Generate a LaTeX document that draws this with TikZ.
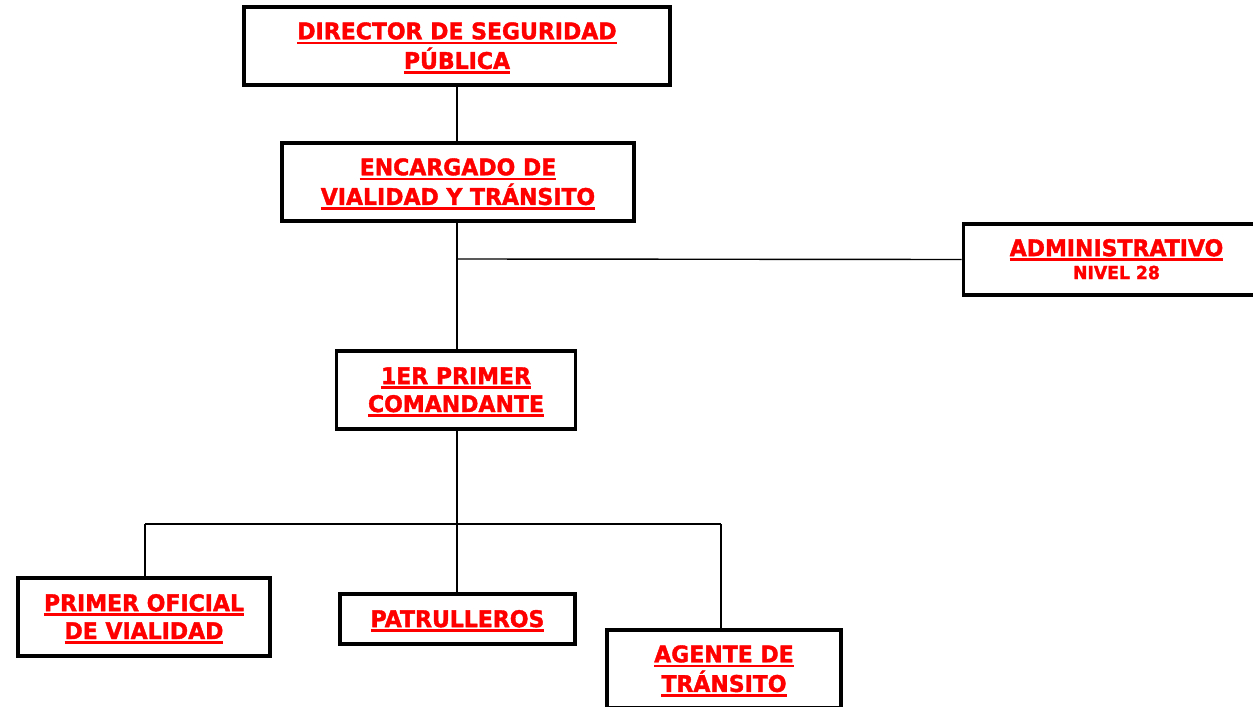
\documentclass[tikz,border=0pt]{standalone}
\usepackage{fontspec}
\setmainfont{DejaVu Sans}[BoldFeatures={FakeBold=1.6,FakeStretch=0.96}]
\definecolor{ured}{RGB}{255,0,0}
\newcommand\myul[1]{\setbox0\hbox{#1}\rlap{\color{ured}\rule[-5bp]{\wd0}{2.7bp}}\box0}
\newcommand\lowr[1]{\raisebox{-2.5bp}[\height][\depth]{\begin{tabular}{@{}c@{}}#1\end{tabular}}}
\begin{document}
\begin{tikzpicture}[x=1bp,y=-1bp,
  box/.style={draw=black,line width=3.8bp,fill=white,align=center,inner sep=0pt,
    font=\fontsize{23}{28}\selectfont\bfseries,text=ured},
  conn/.style={draw=black,line width=1.4bp}]
\useasboundingbox (0,0) rectangle (1253,707);
\clip (0,0) rectangle (1253,707);
\node[box,minimum width=426bp,minimum height=78bp] (dir) at (457,46)
  {\lowr{\myul{DIRECTOR DE SEGURIDAD}\\\myul{PÚBLICA}}};
\node[box,minimum width=352bp,minimum height=78bp] (enc) at (458,182)
  {\lowr{\myul{ENCARGADO DE}\\\myul{VIALIDAD Y TRÁNSITO}}};
\node[box,minimum width=306bp,minimum height=71bp] (adm) at (1116.5,259.5)
  {\lowr{\myul{ADMINISTRATIVO}\\[-5bp]{\fontsize{18}{20}\selectfont NIVEL 28}}};
\node[box,minimum width=239bp,minimum height=78bp] (com) at (456,390)
  {\lowr{\myul{1ER PRIMER}\\\myul{COMANDANTE}}};
\node[box,minimum width=252bp,minimum height=78bp] (pof) at (144,617)
  {\lowr{\myul{PRIMER OFICIAL}\\\myul{DE VIALIDAD}}};
\node[box,minimum width=235bp,minimum height=50bp] (pat) at (457.5,619)
  {\lowr{\myul{PATRULLEROS}}};
\node[box,minimum width=234bp,minimum height=78bp] (age) at (724,669)
  {\lowr{\myul{AGENTE DE}\\\myul{TRÁNSITO}}};
\coordinate (j1) at (457,259);
\coordinate (j2) at (457,524);
\coordinate (jl) at (145,524);
\coordinate (jr) at (721,524);
\draw[conn] (dir.south -| j1) -- (enc.north -| j1);
\draw[conn] (enc.south -| j1) -- (j1) -- (com.north -| j1);
\draw[conn] (j1) -- (adm.west);
\draw[conn] (com.south -| j2) -- (j2) -- (pat.north -| j2);
\draw[conn] (jl) -- (jr);
\draw[conn] (jl) -- (jl |- pof.north);
\draw[conn] (jr) -- (jr |- age.north);
\end{tikzpicture}
\end{document}
